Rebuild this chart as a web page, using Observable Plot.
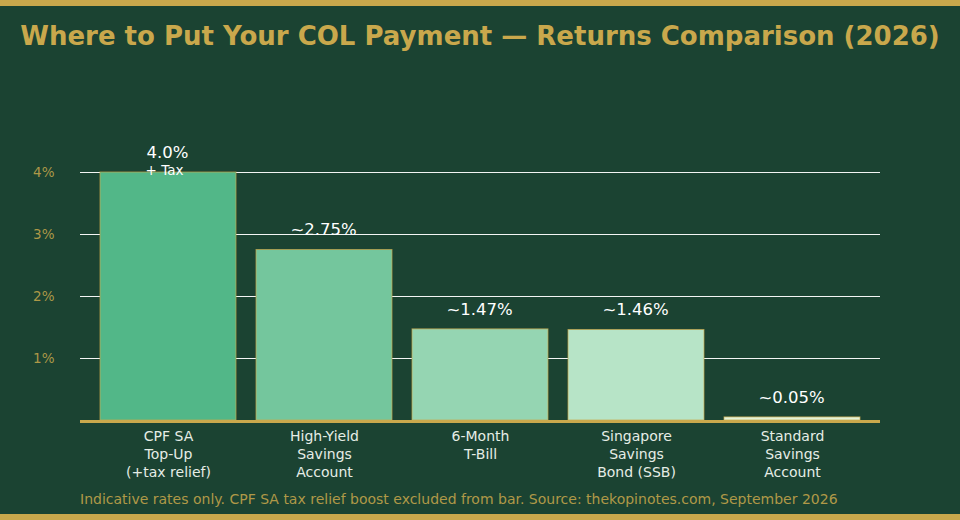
<!DOCTYPE html>
<html>
<head>
<meta charset="utf-8">
<script src="https://cdn.jsdelivr.net/npm/d3@7"></script>
<script src="https://cdn.jsdelivr.net/npm/@observablehq/plot@0.6"></script>
<style>
  html, body { margin: 0; padding: 0; }
  body { width: 960px; height: 520px; background: #1b4332; overflow: hidden; font-family: "DejaVu Sans", sans-serif; }
  .bar { height: 6px; background: #c9a84c; }
  .title { height: 60px; line-height: 60px; text-align: center; color: #c9a84c; font-weight: bold; font-size: 26px; white-space: nowrap; }
  .caption { height: 28px; line-height: 26px; padding-left: 80px; color: #c9a84c; opacity: 0.85; font-size: 14px; white-space: nowrap; }
  #chart svg { display: block; }
</style>
</head>
<body>
<div class="bar"></div>
<div class="title">Where to Put Your COL Payment — Returns Comparison (2026)</div>
<div id="chart"></div>
<div class="caption">Indicative rates only. CPF SA tax relief boost excluded from bar. Source: thekopinotes.com, September 2026</div>
<div class="bar"></div>
<script>
const categories = ["CPF SA Top-Up", "High-Yield Savings Account", "6-Month T-Bill", "Singapore Savings Bond (SSB)", "Standard Savings Account"];
const tickLabels = ["CPF SA\nTop-Up\n(+tax relief)", "High-Yield\nSavings\nAccount", "6-Month\nT-Bill", "Singapore\nSavings\nBond (SSB)", "Standard\nSavings\nAccount"];
const values = [4.0, 2.75, 1.47, 1.46, 0.05];
const valueLabels = ["4.0%", "~2.75%", "~1.47%", "~1.46%", "~0.05%"];
const barColors = ["#52b788", "#74c69d", "#95d5b2", "#b7e4c7", "#e4f3d8"];
const yTicks = [1, 2, 3, 4];
const extraNote = "+ Tax";

const gold = "#c9a84c";
const data = categories.map((c, i) => ({cat: c, value: values[i], label: valueLabels[i], tick: tickLabels[i]}));

const chart = Plot.plot({
  width: 960,
  height: 420,
  marginTop: 106,
  marginBottom: 66,
  marginLeft: 80,
  marginRight: 80,
  style: {background: "transparent", fontFamily: "DejaVu Sans, sans-serif", overflow: "visible"},
  x: {domain: categories, paddingInner: 0.128, paddingOuter: 0.128, axis: null},
  y: {domain: [0, 4], axis: null},
  color: {domain: categories, range: barColors},
  marks: [
    Plot.gridY(yTicks, {stroke: "white", strokeOpacity: 0.95, strokeWidth: 1}),
    Plot.axisY(yTicks, {tickSize: 0, tickPadding: 26, tickFormat: d => d + "%", fill: gold, fillOpacity: 0.85, fontSize: 13.5, label: null}),
    Plot.barY(data, {x: "cat", y: "value", fill: "cat", stroke: gold, strokeOpacity: 0.7, strokeWidth: 1}),
    Plot.ruleY([0], {stroke: gold, strokeWidth: 3, dy: 1}),
    Plot.text(data, {x: "cat", y: "value", text: "label", dx: -1, dy: -20, fill: "white", fontSize: 16.5}),
    Plot.text([extraNote], {x: [categories[0]], y: [values[0]], text: d => d, dx: -4, dy: -1.5, fill: "white", fontSize: 13.5}),
    Plot.text(data, {x: "cat", text: "tick", frameAnchor: "bottom", lineAnchor: "top", dy: 8, lineHeight: 1.29, fontSize: 14, fill: "#e6ede6"})
  ]
});
document.getElementById("chart").append(chart);
</script>
</body>
</html>
